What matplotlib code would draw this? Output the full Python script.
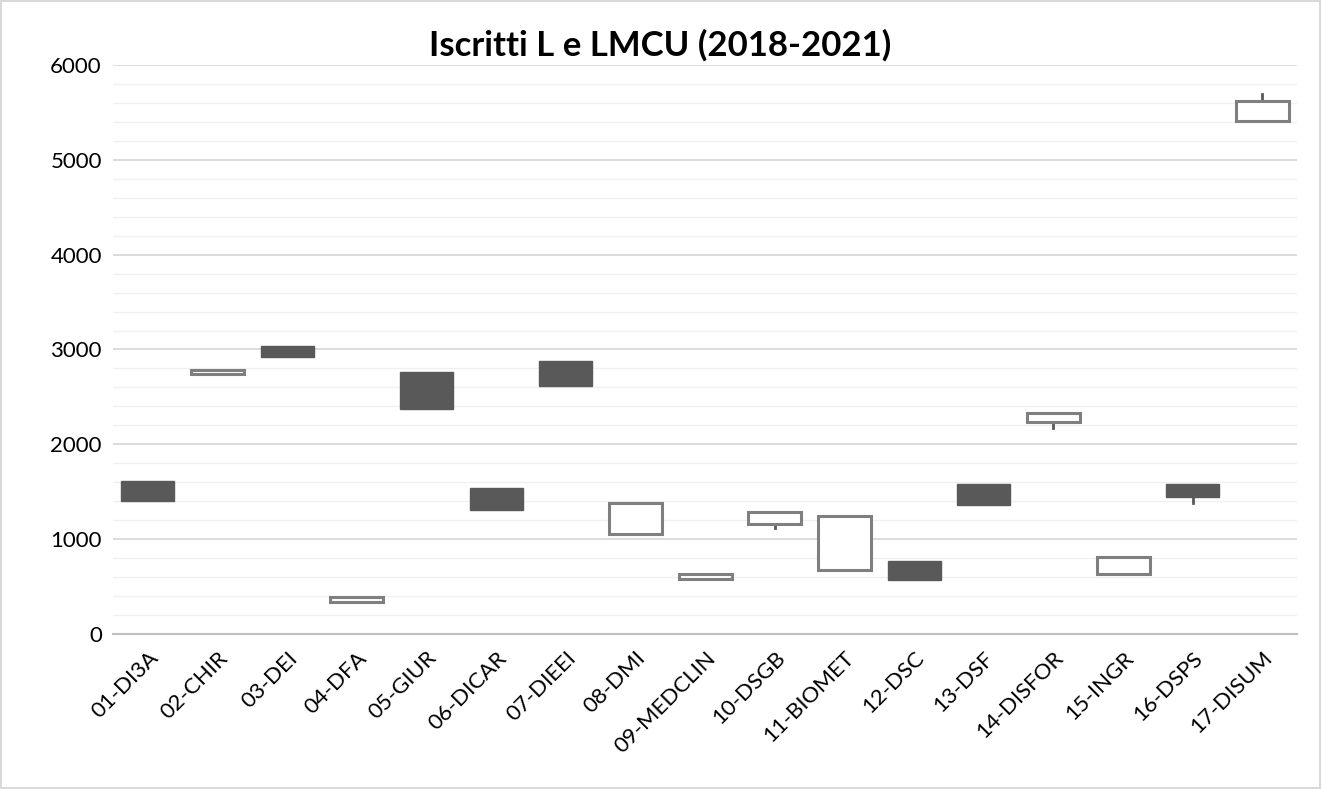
import numpy as np
import matplotlib.pyplot as plt
from matplotlib.patches import Rectangle

# Dipartimenti and enrolment values (open / high / low / close)
dipartimenti = ['01-DI3A', '02-CHIR', '03-DEI', '04-DFA', '05-GIUR', '06-DICAR',
                '07-DIEEI', '08-DMI', '09-MEDCLIN', '10-DSGB', '11-BIOMET', '12-DSC',
                '13-DSF', '14-DISFOR', '15-INGR', '16-DSPS', '17-DISUM']
apertura = [1617, 2741, 3037, 334, 2766, 1543, 2882, 1051, 580, 1160, 675, 770,
            1585, 2232, 636, 1578, 5410]
chiusura = [1399, 2784, 2921, 393, 2370, 1308, 2612, 1385, 633, 1290, 1248, 569,
            1364, 2327, 815, 1445, 5624]
massimo = [1617, 2784, 3037, 393, 2766, 1543, 2882, 1385, 633, 1290, 1248, 770,
           1585, 2327, 815, 1578, 5697]
minimo = [1399, 2741, 2921, 334, 2370, 1308, 2612, 1051, 580, 1114, 675, 569,
          1364, 2169, 636, 1378, 5410]

y_ticks = [0, 1000, 2000, 3000, 4000, 5000, 6000]


def main():
    plt.rcParams['font.family'] = ['Lato', 'DejaVu Sans']

    fig = plt.figure(figsize=(13.21, 7.89), dpi=100)
    fig.patch.set_edgecolor('#d9d9d9')
    fig.patch.set_linewidth(1.5)
    ax = fig.add_axes([0.0855, 0.1965, 0.8965, 0.7211])

    x = np.arange(len(dipartimenti))
    width = 0.76

    # minor and major gridlines
    for v in np.arange(200, 6001, 200):
        major = v % 1000 == 0
        ax.axhline(v, color='#d9d9d9' if major else '#f0f0f0',
                   lw=1.3 if major else 1.0, zorder=0)

    for i in x:
        o, c = apertura[i], chiusura[i]
        lo, hi = min(o, c), max(o, c)
        # high-low lines
        if massimo[i] > hi:
            ax.plot([i, i], [hi, massimo[i]], color='#595959', lw=2, zorder=2)
        if minimo[i] < lo:
            ax.plot([i, i], [minimo[i], lo], color='#595959', lw=2, zorder=2)
        if c < o:
            ax.add_patch(Rectangle((i - width / 2, lo), width, hi - lo,
                                   facecolor='#595959', edgecolor='#595959',
                                   lw=1.0, zorder=3))
        else:
            ax.add_patch(Rectangle((i - width / 2, lo), width, hi - lo,
                                   facecolor='white', edgecolor='#7f7f7f',
                                   lw=2.2, zorder=3))

    ax.set_xlim(-0.5, len(dipartimenti) - 0.5)
    ax.set_ylim(0, 6000)
    ax.set_yticks(y_ticks)
    ax.set_yticklabels([str(v) for v in y_ticks], fontsize=16)
    ax.set_xticks(x)
    ax.set_xticklabels(dipartimenti, rotation=45, ha='right',
                       rotation_mode='anchor', fontsize=16)
    ax.tick_params(axis='both', length=0, pad=8)
    ax.tick_params(axis='x', pad=10)

    for s in ['top', 'right', 'left']:
        ax.spines[s].set_visible(False)
    ax.spines['bottom'].set_color('#bfbfbf')
    ax.spines['bottom'].set_linewidth(1.5)

    fig.text(0.50, 0.943, 'Iscritti L e LMCU (2018-2021)', ha='center',
             va='center', fontsize=25, fontweight='bold')

    fig.savefig('out.png', dpi=100)


if __name__ == "__main__":
    main()
